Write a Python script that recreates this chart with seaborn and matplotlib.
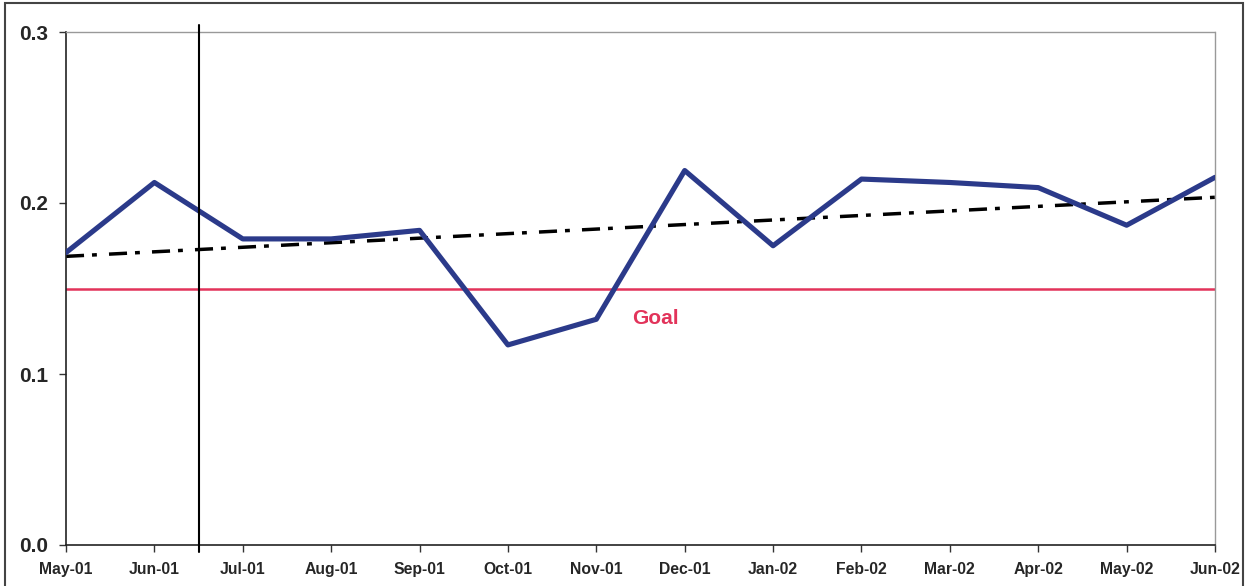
import numpy as np
import pandas as pd
import matplotlib
matplotlib.use("Agg")
import matplotlib.pyplot as plt
from matplotlib.patches import Rectangle
import seaborn as sns

# Monthly values
months = ["May-01", "Jun-01", "Jul-01", "Aug-01", "Sep-01", "Oct-01", "Nov-01",
          "Dec-01", "Jan-02", "Feb-02", "Mar-02", "Apr-02", "May-02", "Jun-02"]
rate = [0.171, 0.212, 0.179, 0.179, 0.184, 0.117, 0.132,
        0.219, 0.175, 0.214, 0.212, 0.209, 0.187, 0.215]
goal = 0.15
y_ticks = [0.0, 0.1, 0.2, 0.3]
marker_pos = 1.5  # vertical marker between Jun-01 and Jul-01

sns.set_style("white")
plt.rcParams["font.family"] = ["Liberation Sans", "DejaVu Sans"]
plt.rcParams["font.weight"] = "bold"

df = pd.DataFrame({"idx": np.arange(len(months)), "month": months, "rate": rate})

fig = plt.figure(figsize=(12.48, 5.86), dpi=100)
ax = fig.add_axes([66 / 1248, 1 - 545 / 586, (1215 - 66) / 1248, (545 - 32) / 586])

# Linear trend of the series
coef = np.polyfit(df["idx"], df["rate"], 1)
trend = np.polyval(coef, df["idx"])
ax.plot(df["idx"], trend, color="black", lw=2.5, dashes=(5.2, 2.3, 1.4, 3.5), zorder=2)

# Goal line
ax.axhline(goal, color="#e2335a", lw=1.8, zorder=1)
ax.text(6.67, goal - 0.0175, "Goal", color="#e2335a", fontsize=15,
        fontweight="bold", ha="center", va="center")

# Main series
sns.lineplot(data=df, x="idx", y="rate", ax=ax, color="#2b3a8a", lw=3.7,
             zorder=3, legend=False)

# Vertical marker
ax.axvline(marker_pos, ymin=-0.014, ymax=1.014, color="black", lw=1.5,
           clip_on=False, zorder=4)

ax.set_xlim(0, len(months) - 1)
ax.set_ylim(0, 0.3)
ax.set_xticks(df["idx"])
ax.set_xticklabels(months, fontsize=11.3, fontweight="bold")
ax.set_yticks(y_ticks)
ax.set_yticklabels([f"{v:.1f}" for v in y_ticks], fontsize=15, fontweight="bold")
ax.set_xlabel("")
ax.set_ylabel("")
ax.tick_params(axis="both", which="both", direction="out", length=5, width=1,
               color="#333333", bottom=True, left=True)
ax.tick_params(axis="x", pad=7)
ax.tick_params(axis="y", pad=8)

for side in ("left", "bottom"):
    ax.spines[side].set_color("#222222")
    ax.spines[side].set_linewidth(1.2)
for side in ("top", "right"):
    ax.spines[side].set_color("#999999")
    ax.spines[side].set_linewidth(1.0)
    ax.spines[side].set_linestyle((0, (2, 1)))

# Frame around the figure
fig.patches.append(Rectangle((5 / 1248, -0.02), (1243 - 5) / 1248, 1.02 - 3 / 586,
                             transform=fig.transFigure, fill=False,
                             edgecolor="#444444", lw=1.5))

fig.savefig("out.png", dpi=100)
